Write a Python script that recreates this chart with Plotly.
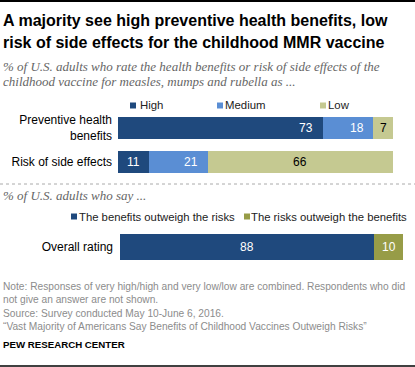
import plotly.graph_objects as go

W, H = 415, 367

# ---- data ----
rating_cats = ["Preventive health<br>benefits", "Risk of side effects"]
high = [73, 11]
medium = [18, 21]
low = [7, 66]

overall_cats = ["Overall rating"]
benefits_outweigh = [88]
risks_outweigh = [10]

title_lines = ["A majority see high preventive health benefits, low",
               "risk of side effects for the childhood MMR vaccine"]
subtitle_lines = ["% of U.S. adults who rate the health benefits or risk of side effects of the",
                  "childhood vaccine for measles, mumps and rubella as ..."]
subtitle2 = "% of U.S. adults who say ..."
note_lines = ["Note: Responses of very high/high and very low/low are combined. Respondents who did",
              "not give an answer are not shown.",
              "Source: Survey conducted May 10-June 6, 2016.",
              "\u201cVast Majority of Americans Say Benefits of Childhood Vaccines Outweigh Risks\u201d"]

C_HIGH = "#1f497d"
C_MED = "#5a8ed4"
C_LOW = "#c5c991"
C_RISK = "#979c47"

SANS = "Liberation Sans, Arial, sans-serif"
SERIF = "Liberation Serif, serif"

def px(x):
    return x / W

def py(y):
    return 1 - y / H

fig = go.Figure()

for name, vals, col in [("High", high, C_HIGH), ("Medium", medium, C_MED), ("Low", low, C_LOW)]:
    fig.add_trace(go.Bar(y=rating_cats, x=vals, orientation="h", name=name,
                         marker=dict(color=col, line=dict(width=0)),
                         xaxis="x", yaxis="y", showlegend=False, hoverinfo="x+name"))

for name, vals, col in [("The benefits outweigh the risks", benefits_outweigh, C_HIGH),
                        ("The risks outweigh the benefits", risks_outweigh, C_RISK)]:
    fig.add_trace(go.Bar(y=overall_cats, x=vals, orientation="h", name=name,
                         marker=dict(color=col, line=dict(width=0)),
                         xaxis="x2", yaxis="y2", showlegend=False, hoverinfo="x+name"))

ann = []
# value labels for rating bars
for i, cat in enumerate(rating_cats):
    segs = [(high[i], "white", "end"), (medium[i], "white", "end"), (low[i], "black", "mid")]
    if i == 1:
        segs[0] = (high[i], "white", "mid")
    cum = 0
    for v, colr, mode in segs:
        start = cum
        cum += v
        if mode == "end":
            xx, xa = cum - 2.8, "right"
        else:
            xx, xa = start + v / 2, "center"
        ann.append(dict(x=xx, y=cat, xref="x", yref="y", text=str(v), showarrow=False,
                        xanchor=xa, yanchor="middle", font=dict(family=SANS, size=12, color=colr)))
cum = 0
for v, colr in [(benefits_outweigh[0], "white"), (risks_outweigh[0], "white")]:
    start = cum
    cum += v
    ann.append(dict(x=start + v / 2, y=overall_cats[0], xref="x2", yref="y2", text=str(v),
                    showarrow=False, xanchor="center", yanchor="middle",
                    font=dict(family=SANS, size=12, color=colr)))

# titles
for t, yy in zip(title_lines, [21, 43]):
    ann.append(dict(x=px(1), y=py(yy), xref="paper", yref="paper", text="<b>" + t + "</b>",
                    showarrow=False, xanchor="left", yanchor="middle",
                    font=dict(family=SANS, size=16, color="black")))
for t, yy in zip(subtitle_lines, [66, 81]):
    ann.append(dict(x=px(1), y=py(yy), xref="paper", yref="paper", text="<i>" + t + "</i>",
                    showarrow=False, xanchor="left", yanchor="middle",
                    font=dict(family=SERIF, size=13, color="#666666")))
ann.append(dict(x=px(1), y=py(195), xref="paper", yref="paper", text="<i>" + subtitle2 + "</i>",
                showarrow=False, xanchor="left", yanchor="middle",
                font=dict(family=SERIF, size=13, color="#666666")))

# legends
shapes = []
leg1 = [("High", C_HIGH, 130, 139), ("Medium", C_MED, 217, 224), ("Low", C_LOW, 320, 327)]
for t, c, sx, tx in leg1:
    shapes.append(dict(type="rect", xref="paper", yref="paper", x0=px(sx), x1=px(sx + 6),
                       y0=py(108.5), y1=py(102.5), fillcolor=c, line=dict(width=0)))
    ann.append(dict(x=px(tx - 1), y=py(105.5), xref="paper", yref="paper", text=t, showarrow=False,
                    xanchor="left", yanchor="middle", font=dict(family=SANS, size=11.4, color="#222222")))
leg2 = [("The benefits outweigh the risks", C_HIGH, 71, 78), ("The risks outweigh the benefits", C_RISK, 244, 250)]
for t, c, sx, tx in leg2:
    shapes.append(dict(type="rect", xref="paper", yref="paper", x0=px(sx), x1=px(sx + 6),
                       y0=py(219.5), y1=py(213.5), fillcolor=c, line=dict(width=0)))
    ann.append(dict(x=px(tx - 1), y=py(217), xref="paper", yref="paper", text=t, showarrow=False,
                    xanchor="left", yanchor="middle", font=dict(family=SANS, size=11.3, color="#222222")))

# notes
for t, yy in zip(note_lines, [286, 299, 313, 326]):
    ann.append(dict(x=px(1), y=py(yy), xref="paper", yref="paper", text=t, showarrow=False,
                    xanchor="left", yanchor="middle", font=dict(family=SANS, size=10.2, color="#8c8c8c")))
ann.append(dict(x=px(1), y=py(344), xref="paper", yref="paper", text="<b>PEW RESEARCH CENTER</b>",
                showarrow=False, xanchor="left", yanchor="middle",
                font=dict(family=SANS, size=9.7, color="black")))

# rules
shapes.append(dict(type="line", xref="paper", yref="paper", x0=0, x1=1, y0=py(1), y1=py(1),
                   line=dict(color="black", width=2)))
shapes.append(dict(type="line", xref="paper", yref="paper", x0=0, x1=1, y0=py(184), y1=py(184),
                   line=dict(color="#aaaaaa", width=1, dash="dot")))
shapes.append(dict(type="line", xref="paper", yref="paper", x0=0, x1=1, y0=py(366), y1=py(366),
                   line=dict(color="black", width=1.5)))

bargap = 0.353
fig.update_layout(
    width=W, height=H, margin=dict(l=0, r=0, t=0, b=0),
    paper_bgcolor="white", plot_bgcolor="white",
    barmode="stack", bargap=bargap,
    annotations=ann, shapes=shapes,
    xaxis=dict(domain=[px(118), px(393)], range=[0, 98], visible=False, fixedrange=True),
    yaxis=dict(domain=[py(179), py(111)], range=[1.5, -0.5], anchor="x",
               showgrid=False, zeroline=False, showline=False, ticks="",
               ticklabelstandoff=5, tickfont=dict(family=SANS, size=12, color="black")),
    xaxis2=dict(domain=[px(120), px(403)], range=[0, 98], visible=False, anchor="y2", fixedrange=True),
    yaxis2=dict(domain=[py(267.1), py(226.9)], range=[0.5, -0.5], anchor="x2",
                showgrid=False, zeroline=False, showline=False, ticks="",
                ticklabelstandoff=6, tickfont=dict(family=SANS, size=12, color="black")),
)

fig.write_html("out.html", config={"displayModeBar": False},
               post_script="document.body.style.margin='0';document.body.style.overflow='hidden';")
